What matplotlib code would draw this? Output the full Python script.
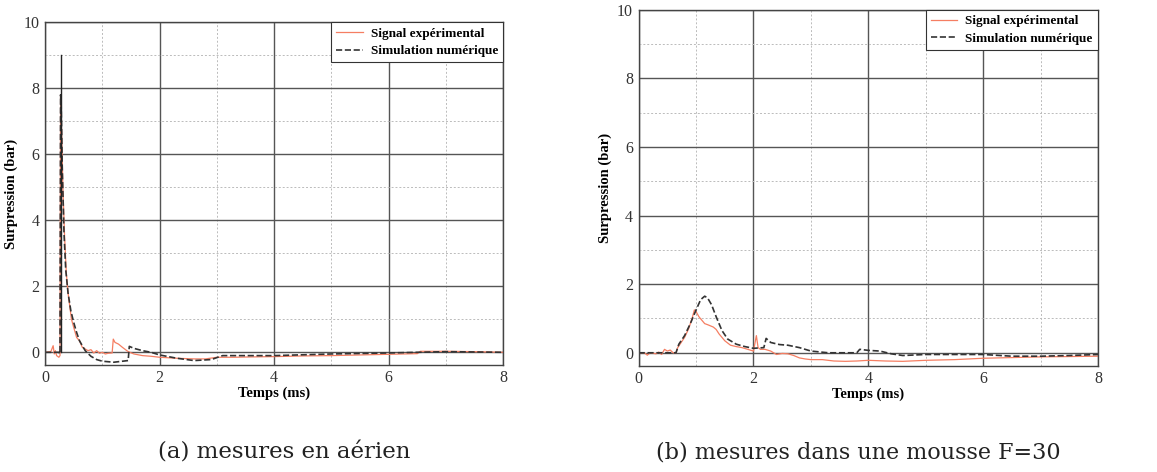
import numpy as np
import matplotlib
matplotlib.use('Agg')
import matplotlib.pyplot as plt
from matplotlib.ticker import MultipleLocator

# (a) aerial measurements
t_exp_a = [0.0, 0.1, 0.14, 0.16, 0.18, 0.2, 0.24, 0.26, 0.27, 0.29, 0.31, 0.34, 0.37, 0.4, 0.43,
           0.46, 0.5, 0.55, 0.6, 0.65, 0.7, 0.75, 0.8, 0.85, 0.9, 0.95, 1.0, 1.05, 1.1, 1.17, 1.19,
           1.22, 1.28, 1.35, 1.45, 1.55, 1.7, 1.85, 2.0, 2.3, 2.6, 2.8, 3.0, 3.3, 3.6, 4.0, 4.5, 5.0,
           5.5, 6.0, 6.5, 6.55, 7.0, 7.5, 8.0]
p_exp_a = [0.0, 0.02, 0.2, -0.05, 0.05, -0.1, -0.15, -0.1, 7.8, 6.5, 5.0, 3.5, 2.4, 1.8, 1.4,
           1.0, 0.75, 0.45, 0.35, 0.15, 0.1, 0.05, 0.08, -0.02, 0.05, -0.03, 0.0, -0.05, -0.03, -0.02, 0.4,
           0.3, 0.25, 0.15, 0.02, -0.05, -0.1, -0.12, -0.15, -0.18, -0.2, -0.2, -0.15, -0.15, -0.14, -0.13, -0.11, -0.1,
           -0.08, -0.06, -0.04, 0.03, 0.03, 0.02, 0.0]
t_sim_a = [0.0, 0.24, 0.26, 0.27, 0.28, 0.3, 0.33, 0.36, 0.4, 0.45, 0.5, 0.55, 0.6, 0.7, 0.8,
           0.9, 1.0, 1.2, 1.45, 1.47, 1.55, 1.7, 1.85, 2.0, 2.3, 2.6, 2.9, 3.1, 3.5, 4.0, 5.0,
           6.0, 6.5, 7.0, 8.0]
p_sim_a = [0.0, 0.0, -0.05, 7.8, 7.5, 5.5, 3.6, 2.5, 1.8, 1.25, 0.9, 0.6, 0.35, 0.05, -0.12,
           -0.22, -0.27, -0.3, -0.25, 0.18, 0.12, 0.05, 0.0, -0.08, -0.18, -0.25, -0.22, -0.1, -0.1, -0.1, -0.05,
           -0.02, 0.0, 0.02, 0.0]
t_peak_a = [0.27, 0.27]
p_peak_a = [0.0, 9.0]

# (b) foam F=30
t_exp_b = [0.0, 0.1, 0.15, 0.2, 0.3, 0.35, 0.4, 0.45, 0.5, 0.55, 0.6, 0.65, 0.68, 0.72, 0.8,
           0.87, 0.93, 0.97, 1.0, 1.05, 1.1, 1.15, 1.2, 1.3, 1.35, 1.4, 1.45, 1.5, 1.6, 1.7, 1.8,
           1.9, 2.0, 2.05, 2.08, 2.12, 2.2, 2.3, 2.4, 2.5, 2.6, 2.7, 2.8, 2.9, 3.0, 3.2, 3.4,
           3.6, 3.8, 4.0, 4.3, 4.6, 5.0, 5.5, 6.0, 6.5, 7.0, 7.5, 8.0]
p_exp_b = [0.0, 0.0, -0.07, 0.0, -0.03, 0.02, -0.05, 0.1, 0.05, 0.08, 0.0, 0.0, 0.15, 0.25, 0.45,
           0.7, 1.0, 1.25, 1.2, 1.05, 0.95, 0.85, 0.82, 0.75, 0.68, 0.55, 0.45, 0.35, 0.22, 0.18, 0.15,
           0.1, 0.05, 0.5, 0.15, 0.1, 0.1, 0.05, -0.05, -0.02, -0.03, -0.08, -0.15, -0.18, -0.2, -0.2, -0.24,
           -0.25, -0.24, -0.22, -0.24, -0.25, -0.22, -0.2, -0.16, -0.14, -0.12, -0.11, -0.1]
t_sim_b = [0.0, 0.65, 0.7, 0.8, 0.9, 1.0, 1.08, 1.15, 1.2, 1.27, 1.35, 1.45, 1.55, 1.7, 1.85,
           2.0, 2.18, 2.22, 2.3, 2.45, 2.6, 2.8, 3.0, 3.3, 3.8, 3.85, 4.0, 4.2, 4.4, 4.6, 5.0,
           5.5, 6.0, 6.5, 7.0, 7.5, 8.0]
p_sim_b = [0.0, 0.0, 0.25, 0.5, 0.85, 1.25, 1.55, 1.65, 1.6, 1.4, 1.05, 0.65, 0.4, 0.25, 0.18,
           0.13, 0.15, 0.42, 0.3, 0.24, 0.22, 0.15, 0.05, 0.0, 0.0, 0.1, 0.07, 0.05, -0.03, -0.08, -0.05,
           -0.05, -0.05, -0.1, -0.1, -0.08, -0.05]

exp_color = '#F57E62'
sim_color = '#333333'

plt.rcParams['font.family'] = ['Liberation Serif', 'DejaVu Serif']

fig = plt.figure(figsize=(11.57, 4.72), dpi=100)
ax1 = fig.add_axes([0.039, 0.227, 0.396, 0.726])
ax2 = fig.add_axes([0.552, 0.225, 0.397, 0.754])


def style_axes(ax):
    ax.set_xlim(0, 8)
    ax.set_ylim(-0.38, 10)
    ax.xaxis.set_major_locator(MultipleLocator(2))
    ax.xaxis.set_minor_locator(MultipleLocator(1))
    ax.yaxis.set_major_locator(MultipleLocator(2))
    ax.yaxis.set_minor_locator(MultipleLocator(1))
    ax.grid(which='major', color='#555555', linewidth=1.0, linestyle='-')
    ax.grid(which='minor', color='#BBBBBB', linewidth=0.7, linestyle=(0, (2, 2)))
    ax.set_axisbelow(True)
    ax.tick_params(which='both', length=0, labelsize=11.5, pad=4, colors='#333333')
    for s in ax.spines.values():
        s.set_color('#444444')
        s.set_linewidth(1.0)
    ax.set_xlabel('Temps (ms)', fontsize=10.5, fontweight='bold', labelpad=0)
    ax.set_ylabel('Surpression (bar)', fontsize=10.5, fontweight='bold', labelpad=4)
    leg = ax.legend(loc='upper right', fancybox=False, framealpha=1, borderaxespad=0,
                    prop={'weight': 'bold', 'size': 9.5}, handlelength=2.0,
                    borderpad=0.4, labelspacing=0.4, handletextpad=0.6)
    leg.get_frame().set_edgecolor('#333333')
    leg.get_frame().set_linewidth(0.8)


ax1.plot(t_exp_a, p_exp_a, color=exp_color, linewidth=0.9, label='Signal expérimental')
ax1.plot(t_sim_a, p_sim_a, color=sim_color, linewidth=1.2, linestyle='--', label='Simulation numérique')
ax1.plot(t_peak_a, p_peak_a, color='#222222', linewidth=1.0)
style_axes(ax1)

ax2.plot(t_exp_b, p_exp_b, color=exp_color, linewidth=0.9, label='Signal expérimental')
ax2.plot(t_sim_b, p_sim_b, color=sim_color, linewidth=1.2, linestyle='--', label='Simulation numérique')
style_axes(ax2)

fig.text(0.246, 0.042, '(a) mesures en aérien', ha='center', va='center', fontsize=16.5,
         family=['DejaVu Serif'], color='#222222')
fig.text(0.742, 0.042, '(b) mesures dans une mousse F=30', ha='center', va='center', fontsize=16,
         family=['DejaVu Serif'], color='#222222')

fig.savefig('out.png', dpi=100)
